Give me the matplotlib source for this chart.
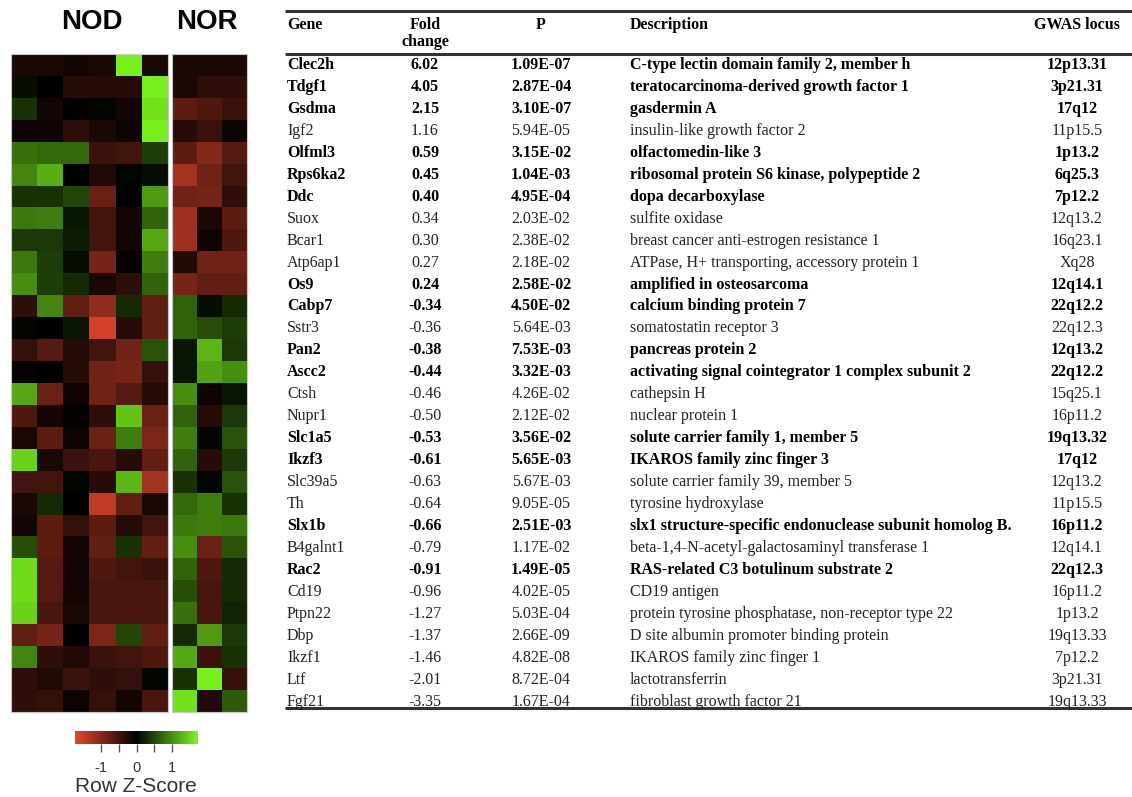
import numpy as np
import matplotlib.pyplot as plt
from matplotlib.colors import LinearSegmentedColormap

genes = ["Clec2h", "Tdgf1", "Gsdma", "Igf2", "Olfml3", "Rps6ka2", "Ddc", "Suox", "Bcar1",
         "Atp6ap1", "Os9", "Cabp7", "Sstr3", "Pan2", "Ascc2", "Ctsh", "Nupr1", "Slc1a5",
         "Ikzf3", "Slc39a5", "Th", "Slx1b", "B4galnt1", "Rac2", "Cd19", "Ptpn22", "Dbp",
         "Ikzf1", "Ltf", "Fgf21"]
fold_change = ["6.02", "4.05", "2.15", "1.16", "0.59", "0.45", "0.40", "0.34", "0.30", "0.27",
               "0.24", "-0.34", "-0.36", "-0.38", "-0.44", "-0.46", "-0.50", "-0.53", "-0.61",
               "-0.63", "-0.64", "-0.66", "-0.79", "-0.91", "-0.96", "-1.27", "-1.37", "-1.46",
               "-2.01", "-3.35"]
p_values = ["1.09E-07", "2.87E-04", "3.10E-07", "5.94E-05", "3.15E-02", "1.04E-03", "4.95E-04",
            "2.03E-02", "2.38E-02", "2.18E-02", "2.58E-02", "4.50E-02", "5.64E-03", "7.53E-03",
            "3.32E-03", "4.26E-02", "2.12E-02", "3.56E-02", "5.65E-03", "5.67E-03", "9.05E-05",
            "2.51E-03", "1.17E-02", "1.49E-05", "4.02E-05", "5.03E-04", "2.66E-09", "4.82E-08",
            "8.72E-04", "1.67E-04"]
descriptions = [
    "C-type lectin domain family 2, member h",
    "teratocarcinoma-derived growth factor 1",
    "gasdermin A",
    "insulin-like growth factor 2",
    "olfactomedin-like 3",
    "ribosomal protein S6 kinase, polypeptide 2",
    "dopa decarboxylase",
    "sulfite oxidase",
    "breast cancer anti-estrogen resistance 1",
    "ATPase, H+ transporting, accessory protein 1",
    "amplified in osteosarcoma",
    "calcium binding protein 7",
    "somatostatin receptor 3",
    "pancreas protein 2",
    "activating signal cointegrator 1 complex subunit 2",
    "cathepsin H",
    "nuclear protein 1",
    "solute carrier family 1, member 5",
    "IKAROS family zinc finger 3",
    "solute carrier family 39, member 5",
    "tyrosine hydroxylase",
    "slx1 structure-specific endonuclease subunit homolog B.",
    "beta-1,4-N-acetyl-galactosaminyl transferase 1",
    "RAS-related C3 botulinum substrate 2",
    "CD19 antigen",
    "protein tyrosine phosphatase, non-receptor type 22",
    "D site albumin promoter binding protein",
    "IKAROS family zinc finger 1",
    "lactotransferrin",
    "fibroblast growth factor 21",
]
gwas_locus = ["12p13.31", "3p21.31", "17q12", "11p15.5", "1p13.2", "6q25.3", "7p12.2", "12q13.2",
              "16q23.1", "Xq28", "12q14.1", "22q12.2", "22q12.3", "12q13.2", "22q12.2", "15q25.1",
              "16p11.2", "19q13.32", "17q12", "12q13.2", "11p15.5", "16p11.2", "12q14.1",
              "22q12.3", "16p11.2", "1p13.2", "19q13.33", "7p12.2", "3p21.31", "19q13.33"]
bold_genes = ["Clec2h", "Tdgf1", "Gsdma", "Olfml3", "Rps6ka2", "Ddc", "Os9", "Cabp7", "Pan2",
              "Ascc2", "Slc1a5", "Ikzf3", "Slx1b", "Rac2"]

# row z-scores (6 NOD samples, 3 NOR samples)
nod_z = [
    [-0.2, -0.2, -0.15, -0.2, 1.7, -0.2],
    [0.1, 0.0, -0.3, -0.3, -0.3, 1.7],
    [0.35, -0.15, 0.0, 0.05, -0.15, 1.6],
    [-0.1, -0.1, -0.35, -0.2, -0.1, 1.7],
    [0.8, 0.75, 0.75, -0.45, -0.5, 0.45],
    [0.95, 1.25, 0.0, -0.25, 0.05, 0.1],
    [0.35, 0.35, 0.5, -0.8, 0.0, 1.1],
    [0.85, 0.9, 0.15, -0.5, -0.15, 0.7],
    [0.4, 0.4, 0.2, -0.5, -0.15, 1.2],
    [0.85, 0.45, 0.1, -0.9, -0.05, 0.9],
    [1.0, 0.45, 0.3, -0.2, -0.35, 0.7],
    [-0.35, 0.95, -0.75, -1.1, 0.3, -0.75],
    [0.05, 0.0, 0.15, -1.6, -0.3, -0.75],
    [-0.4, -0.65, -0.3, -0.5, -0.85, 0.6],
    [-0.05, 0.0, -0.3, -0.85, -0.9, -0.4],
    [1.2, -0.8, -0.1, -0.85, -0.65, -0.3],
    [-0.6, -0.15, -0.05, -0.35, 1.4, -0.8],
    [-0.2, -0.7, -0.1, -0.8, 0.9, -0.95],
    [1.5, -0.2, -0.45, -0.55, -0.3, -0.75],
    [-0.5, -0.5, 0.05, -0.3, 1.3, -1.25],
    [-0.2, 0.3, 0.0, -1.45, -0.75, -0.2],
    [-0.15, -0.7, -0.4, -0.7, -0.3, -0.5],
    [0.55, -0.7, -0.15, -0.75, 0.35, -0.75],
    [1.55, -0.65, -0.15, -0.6, -0.5, -0.45],
    [1.55, -0.65, -0.15, -0.55, -0.55, -0.55],
    [1.5, -0.55, -0.2, -0.55, -0.55, -0.55],
    [-0.75, -0.9, 0.0, -0.95, 0.5, -0.75],
    [0.95, -0.35, -0.25, -0.45, -0.5, -0.6],
    [-0.35, -0.25, -0.45, -0.35, -0.4, 0.05],
    [-0.35, -0.4, -0.1, -0.4, -0.15, -0.55],
]
nor_z = [
    [-0.2, -0.2, -0.2],
    [-0.2, -0.35, -0.35],
    [-0.7, -0.6, -0.45],
    [-0.3, -0.45, -0.1],
    [-0.7, -1.0, -0.65],
    [-1.25, -0.85, -0.5],
    [-0.85, -0.9, -0.35],
    [-1.2, -0.2, -0.7],
    [-1.2, -0.1, -0.6],
    [-0.25, -0.85, -0.85],
    [-0.9, -0.75, -0.75],
    [0.7, 0.1, 0.3],
    [0.7, 0.55, 0.45],
    [0.15, 1.3, 0.4],
    [0.15, 1.15, 1.0],
    [1.0, -0.1, 0.15],
    [0.7, -0.3, 0.4],
    [0.9, 0.05, 0.6],
    [0.7, -0.3, 0.4],
    [0.35, 0.05, 0.6],
    [0.75, 0.9, 0.35],
    [0.85, 0.9, 0.85],
    [1.0, -0.8, 0.6],
    [0.7, -0.6, 0.3],
    [0.55, -0.55, 0.3],
    [0.8, -0.55, 0.25],
    [0.3, 1.1, 0.4],
    [1.2, -0.45, 0.35],
    [0.35, 1.7, -0.4],
    [1.6, -0.25, 0.65],
]

W, H = 1132, 797
fig = plt.figure(figsize=(W / 100, H / 100), dpi=100)

cmap = LinearSegmentedColormap.from_list("rg", ["#e5472e", "#000000", "#7cf51c"])
vmin, vmax = -1.75, 1.75


def px_axes(x0, y0, x1, y1):
    # axes placed in pixel coords (origin top left)
    return fig.add_axes([x0 / W, 1 - y1 / H, (x1 - x0) / W, (y1 - y0) / H])


# heatmap blocks
for data, (x0, x1) in [(nod_z, (11, 168)), (nor_z, (172, 247))]:
    ax = px_axes(x0, 54, x1, 712)
    ax.imshow(np.array(data), cmap=cmap, vmin=vmin, vmax=vmax, aspect="auto",
              interpolation="nearest")
    ax.set_xticks([])
    ax.set_yticks([])
    for s in ax.spines.values():
        s.set_color("#c8c8c8")
        s.set_linewidth(0.8)

sans = "Liberation Sans"
fig.text(92 / W, 1 - 22 / H, "NOD", ha="center", va="center", fontsize=20,
         fontweight="bold", family=sans)
fig.text(207 / W, 1 - 22 / H, "NOR", ha="center", va="center", fontsize=20,
         fontweight="bold", family=sans)

# colour key
cax = px_axes(75, 731, 198, 744)
grad = np.linspace(vmin, vmax, 256).reshape(1, -1)
cax.imshow(grad, cmap=cmap, vmin=vmin, vmax=vmax, aspect="auto",
           extent=[vmin, vmax, 0, 1])
cax.set_yticks([])
cax.set_xticks([-1, -0.5, 0, 0.5, 1])
cax.set_xticklabels(["-1", "", "0", "", "1"], fontsize=10.5, color="#333333", family=sans)
cax.tick_params(axis="x", length=6, width=1, color="#555555", pad=6)
for s in cax.spines.values():
    s.set_visible(False)
fig.text(136 / W, 1 - 787 / H, "Row Z-Score", ha="center", va="center", fontsize=15,
         color="#333333", family=sans)

# table drawn in pixel coords
tab = fig.add_axes([0, 0, 1, 1])
tab.set_xlim(0, W)
tab.set_ylim(H, 0)
tab.axis("off")

serif = "Liberation Serif"
fs = 11.5
for y in [11, 54, 708]:
    tab.plot([285, 1132], [y, y], color="#333333", lw=2.2, solid_capstyle="butt")

hkw = dict(va="baseline", fontsize=fs, fontweight="bold", family=serif)
tab.text(287, 29, "Gene", ha="left", **hkw)
tab.text(425, 29, "Fold", ha="center", **hkw)
tab.text(425, 46, "change", ha="center", **hkw)
tab.text(541, 29, "P", ha="center", **hkw)
tab.text(630, 29, "Description", ha="left", **hkw)
tab.text(1077, 29, "GWAS locus", ha="center", **hkw)

row_y0, row_dy = 69, 21.95
for i, g in enumerate(genes):
    y = row_y0 + i * row_dy
    w = "bold" if g in bold_genes else "normal"
    c = "black" if g in bold_genes else "#222222"
    kw = dict(va="baseline", fontsize=fs, fontweight=w, family=serif, color=c)
    tab.text(287, y, g, ha="left", **kw)
    tab.text(425, y, fold_change[i], ha="center", **kw)
    tab.text(541, y, p_values[i], ha="center", **kw)
    tab.text(630, y, descriptions[i], ha="left", **kw)
    tab.text(1077, y, gwas_locus[i], ha="center", **kw)

fig.savefig("out.png", dpi=100)
